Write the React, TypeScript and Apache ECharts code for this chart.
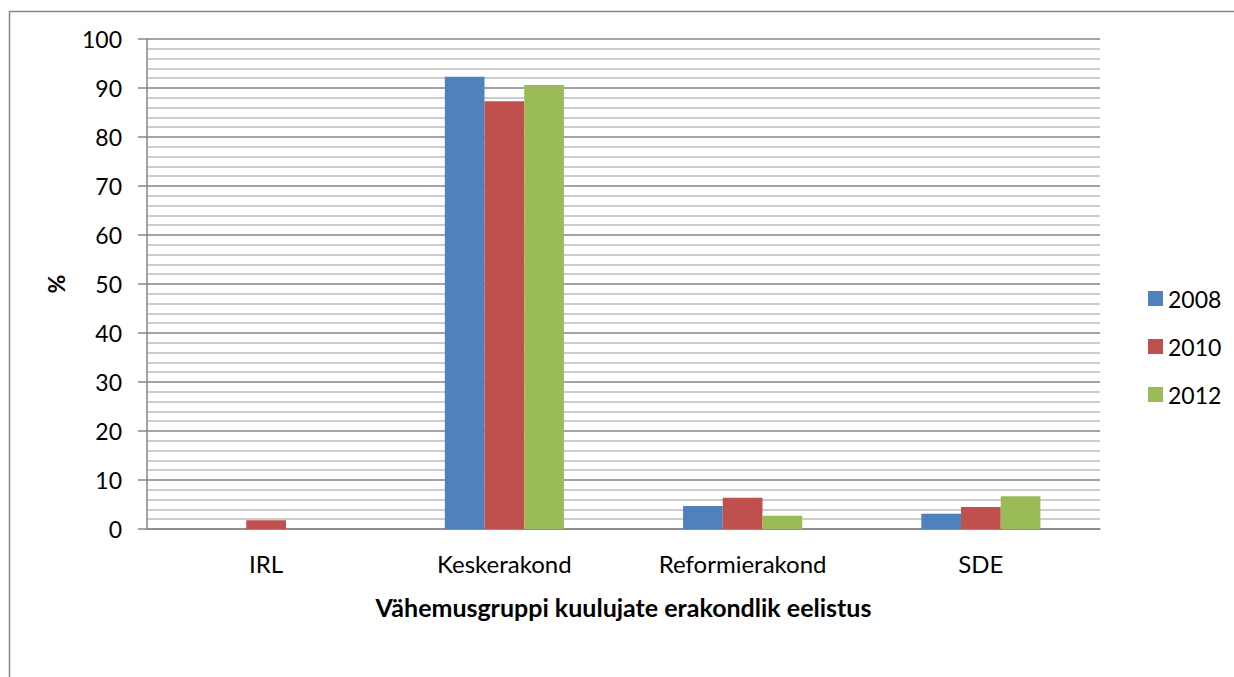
import React, { useEffect, useRef } from "react";
import * as echarts from "echarts";

const categories = ["IRL", "Keskerakond", "Reformierakond", "SDE"];
const seriesNames = ["2008", "2010", "2012"];
const values2008 = [0, 92.3, 4.7, 3.1];
const values2010 = [1.8, 87.3, 6.4, 4.5];
const values2012 = [0, 90.6, 2.7, 6.7];
const colors = ["#4f81bd", "#c0504d", "#9bbb59"];

const FONT = "Lato, 'Open Sans', sans-serif";

export default function App() {
  const ref = useRef<HTMLDivElement>(null);
  useEffect(() => {
    if (!ref.current) return;
    const chart = echarts.init(ref.current, undefined, { renderer: "svg" });
    const data = [values2008, values2010, values2012];
    chart.setOption({
      animation: false,
      backgroundColor: "#ffffff",
      textStyle: { fontFamily: FONT },
      graphic: [
        {
          type: "rect",
          left: 7,
          top: 9,
          shape: { x: 0, y: 0, width: 1300, height: 720 },
          style: { fill: "none", stroke: "#868686", lineWidth: 1.5 },
          silent: true,
          z: -10,
        },
      ],
      grid: { left: 147, right: 134, top: 39, bottom: 148, containLabel: false },
      legend: {
        orient: "vertical",
        left: 1143,
        top: 282,
        itemWidth: 15,
        itemHeight: 15,
        itemGap: 25,
        icon: "rect",
        data: seriesNames,
        textStyle: { fontSize: 23, color: "#000", fontFamily: FONT, padding: [0, 0, 0, 0] },
      },
      xAxis: {
        type: "category",
        data: categories,
        name: "Vähemusgruppi kuulujate erakondlik eelistus",
        nameLocation: "middle",
        nameGap: 78,
        nameTextStyle: { fontSize: 25, fontWeight: "bold", color: "#000", fontFamily: FONT, verticalAlign: "middle" },
        axisLine: { lineStyle: { color: "#868686", width: 1.5 } },
        axisTick: { show: false },
        axisLabel: { fontSize: 24, color: "#000", margin: 22, fontFamily: FONT },
      },
      yAxis: {
        type: "value",
        min: 0,
        max: 100,
        interval: 10,
        name: "%",
        nameLocation: "middle",
        nameGap: 80,
        nameRotate: 90,
        nameTextStyle: { fontSize: 23, fontWeight: "bold", color: "#000", fontFamily: FONT },
        axisLine: { show: true, lineStyle: { color: "#868686", width: 1.5 } },
        axisTick: { show: true, inside: false, length: 9, lineStyle: { color: "#868686", width: 1.5 } },
        minorTick: { show: false, splitNumber: 5 },
        axisLabel: { fontSize: 23, color: "#000", margin: 25, fontFamily: FONT },
        splitLine: { show: true, lineStyle: { color: "#868686", width: 1.5 } },
        minorSplitLine: { show: true, lineStyle: { color: "#bcbcbc", width: 1.5 } },
      },
      series: seriesNames.map((name, i) => ({
        name,
        type: "bar",
        data: data[i],
        barGap: "0%",
        barCategoryGap: "50%",
        itemStyle: { color: colors[i] },
      })),
    });
    return () => chart.dispose();
  }, []);
  return (
    <div
      ref={ref}
      style={{ position: "fixed", left: 0, top: 0, width: 1234, height: 677 }}
    />
  );
}
